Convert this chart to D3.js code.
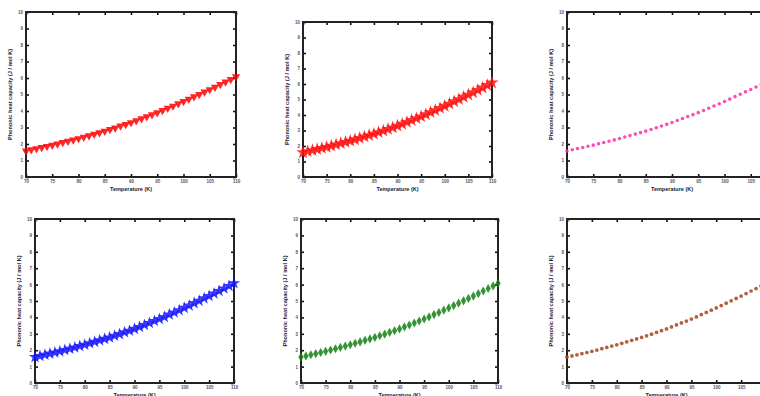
<!DOCTYPE html>
<html>
<head>
<meta charset="utf-8">
<script src="https://cdn.jsdelivr.net/npm/d3@7"></script>
<style>
  body { margin: 0; background: #fff; overflow: hidden; }
  svg { display: block; }
</style>
</head>
<body>
<div id="chart"></div>
<script>
// temperature (K) and phononic heat capacity (J / mol K)
const temperature = [70, 71, 72, 73, 74, 75, 76, 77, 78, 79, 80, 81, 82, 83, 84, 85, 86, 87, 88, 89, 90,
  91, 92, 93, 94, 95, 96, 97, 98, 99, 100, 101, 102, 103, 104, 105, 106, 107, 108, 109, 110];
const heatCapacity = [1.58, 1.65, 1.72, 1.79, 1.86, 1.93, 2.01, 2.09, 2.17, 2.25, 2.33, 2.42, 2.51, 2.60,
  2.69, 2.78, 2.88, 2.98, 3.09, 3.19, 3.30, 3.42, 3.54, 3.66, 3.78, 3.90, 4.03, 4.17, 4.30, 4.44, 4.58,
  4.72, 4.87, 5.01, 5.16, 5.30, 5.45, 5.61, 5.76, 5.92, 6.08];
const xTicks = [70, 75, 80, 85, 90, 95, 100, 105, 110];
const yTicks = [0, 1, 2, 3, 4, 5, 6, 7, 8, 9, 10];
const xLabel = 'Temperature (K)';
const yLabel = 'Phononic heat capacity (J / mol K)';

const width = 760;
const height = 396;

// one entry per sub plot: where its axes box sits and how the markers look
const panels = [
  {left: 26, top: 12, right: 236, bottom: 177, color: '#ff0000', symbol: 'triangleDown', size: 30},
  {left: 303, top: 22, right: 492, bottom: 177, color: '#ff1010', symbol: 'star', size: 55},
  {left: 567, top: 12, right: 777, bottom: 177, color: '#ff2ca8', symbol: 'circle', size: 10},
  {left: 35, top: 219, right: 234, bottom: 383, color: '#1414ff', symbol: 'star', size: 48},
  {left: 301, top: 219, right: 498, bottom: 383, color: '#108010', symbol: 'diamond', size: 24},
  {left: 567, top: 219, right: 766, bottom: 383, color: '#a4441c', symbol: 'circle', size: 11}
];

const svg = d3.select('#chart').append('svg')
  .attr('width', width)
  .attr('height', height)
  .style('font-family', 'Liberation Sans, Arial, sans-serif');

const symbolTypes = {
  triangleDown: d3.symbolTriangle,
  star: d3.symbolStar,
  circle: d3.symbolCircle,
  diamond: d3.symbolDiamond
};

const points = temperature.map((t, i) => ({t: t, c: heatCapacity[i]}));

panels.forEach(p => {
  const x = d3.scaleLinear().domain([70, 110]).range([p.left, p.right]);
  const y = d3.scaleLinear().domain([0, 10]).range([p.bottom, p.top]);
  const g = svg.append('g');

  // inward ticks on all four sides, like a matlab box
  const bottomAxis = g.append('g')
    .attr('transform', `translate(0,${p.bottom})`)
    .call(d3.axisBottom(x).tickValues(xTicks).tickSizeInner(-3).tickSizeOuter(0).tickPadding(3));
  const topAxis = g.append('g')
    .attr('transform', `translate(0,${p.top})`)
    .call(d3.axisTop(x).tickValues(xTicks).tickSizeInner(-3).tickSizeOuter(0).tickFormat(''));
  const leftAxis = g.append('g')
    .attr('transform', `translate(${p.left},0)`)
    .call(d3.axisLeft(y).tickValues(yTicks).tickSizeInner(-3).tickSizeOuter(0).tickPadding(3));
  const rightAxis = g.append('g')
    .attr('transform', `translate(${p.right},0)`)
    .call(d3.axisRight(y).tickValues(yTicks).tickSizeInner(-3).tickSizeOuter(0).tickFormat(''));

  [bottomAxis, topAxis, leftAxis, rightAxis].forEach(a => {
    a.select('.domain').remove();
    a.selectAll('line').attr('stroke', '#111').attr('stroke-width', 1.6);
    a.selectAll('text').attr('font-size', 4.5).attr('font-weight', 'bold').attr('fill', '#556');
  });

  g.append('rect')
    .attr('x', p.left)
    .attr('y', p.top)
    .attr('width', p.right - p.left)
    .attr('height', p.bottom - p.top)
    .attr('fill', 'none')
    .attr('stroke', '#222')
    .attr('stroke-width', 2);

  const sym = d3.symbol().type(symbolTypes[p.symbol]).size(p.size);
  g.selectAll('.mark')
    .data(points)
    .enter().append('path')
    .attr('class', 'mark')
    .attr('d', sym)
    .attr('transform', d => `translate(${x(d.t)},${y(d.c)})` + (p.symbol === 'triangleDown' ? ' rotate(180)' : ''))
    .attr('fill', p.color)
    .attr('fill-opacity', 0.85);

  g.append('text')
    .attr('x', (p.left + p.right) / 2)
    .attr('y', p.bottom + 14)
    .attr('text-anchor', 'middle')
    .attr('font-size', 5.5)
    .attr('font-weight', 'bold')
    .attr('fill', '#223')
    .text(xLabel);

  g.append('text')
    .attr('transform', `translate(${p.left - 14},${(p.top + p.bottom) / 2}) rotate(-90)`)
    .attr('text-anchor', 'middle')
    .attr('font-size', 5.6)
    .attr('font-weight', 'bold')
    .attr('fill', '#223')
    .text(yLabel);
});
</script>
</body>
</html>
